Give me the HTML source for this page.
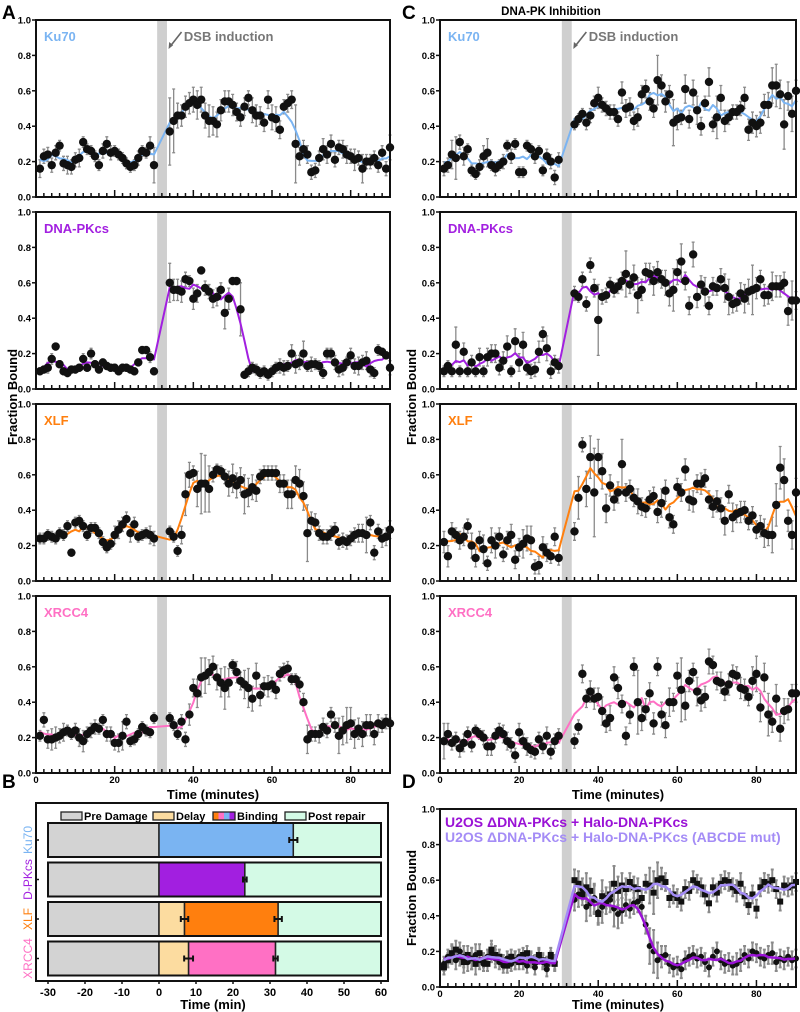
<!DOCTYPE html>
<html><head><meta charset="utf-8"><style>
html,body{margin:0;padding:0;background:#fff;}
svg{display:block;font-family:"Liberation Sans",Arial,sans-serif;}
</style></head><body>
<svg id="fig" width="800" height="1012" viewBox="0 0 800 1012">
<rect width="800" height="1012" fill="#fff"/>
<text x="2" y="19" font-size="19" font-weight="bold">A</text>
<text x="402" y="19" font-size="19" font-weight="bold">C</text>
<text x="2" y="788" font-size="19" font-weight="bold">B</text>
<text x="402" y="788" font-size="19" font-weight="bold">D</text>
<text x="551" y="15" font-size="11.5" font-weight="bold" text-anchor="middle">DNA-PK Inhibition</text>
<text transform="translate(17,397) rotate(-90)" font-size="13" font-weight="bold" text-anchor="middle">Fraction Bound</text>
<text transform="translate(416,397) rotate(-90)" font-size="13" font-weight="bold" text-anchor="middle">Fraction Bound</text>
<text transform="translate(416,898) rotate(-90)" font-size="13" font-weight="bold" text-anchor="middle">Fraction Bound</text>
<text x="213" y="799" font-size="13" font-weight="bold" text-anchor="middle">Time (minutes)</text>
<text x="618" y="799" font-size="13" font-weight="bold" text-anchor="middle">Time (minutes)</text>
<text x="618" y="1009" font-size="13" font-weight="bold" text-anchor="middle">Time (minutes)</text>
<text x="213" y="1009" font-size="13" font-weight="bold" text-anchor="middle">Time (min)</text>
</svg>
<script>
// ---- Panel A data (hundredths) ----
const a1Pre=[16,23,24,18,25,29,19,18,17,21,22,31,27,26,23,18,26,30,25,26,24,22,19,17,18,22,26,25,29,18];
const a1Post=[37,43,46,46,51,53,55,52,55,46,43,43,41,49,54,54,52,48,45,51,56,49,46,46,42,55,45,44,38,51,53,55,30,23,27,24,14,15,22,27,24,30,21,28,27,24,23,21,22,16,20,20,22,18,25,16,28];
const a1Err=[5,4,4,4,4,3,4,5,4,4,5,3,3,3,3,3,4,4,4,3,3,3,3,3,3,4,3,3,5,10,19,18,7,6,6,6,7,8,7,7,9,8,7,6,6,6,6,5,5,5,4,7,6,5,5,5,7,7,5,4,5,5,22,5,5,5,4,4,4,6,5,5,4,4,5,5,4,6,4,8,4,4,4,4,4,4,7];
const a2Pre=[10,11,12,17,24,14,10,9,11,11,12,17,12,20,14,11,15,13,12,12,10,12,12,11,10,15,22,22,18,10];
const a2Post=[60,56,56,55,62,61,51,54,67,57,55,51,52,56,43,51,61,61,45,8,10,12,11,9,10,8,10,12,13,12,13,20,14,15,20,13,14,14,13,9,20,20,15,11,12,15,19,13,13,15,16,11,9,22,21,19,12];
const a2Err=[2,2,3,3,2,2,2,2,2,2,2,3,2,3,2,2,2,2,2,2,2,2,2,2,2,2,2,2,3,2,11,6,6,6,4,3,6,5,2,4,4,5,5,4,9,6,2,2,15,2,3,3,3,3,3,3,3,3,4,4,3,5,5,4,7,3,4,3,3,3,3,3,4,4,4,3,4,4,5,4,5,4,3,3,2,2,4];
const a3Pre=[24,24,26,25,24,27,26,31,16,33,34,31,26,30,30,27,22,19,21,26,29,32,35,27,32,25,26,27,26,24];
const a3Post=[28,25,17,26,49,60,61,52,55,55,52,60,63,62,59,55,58,54,57,49,50,53,51,59,61,61,61,61,55,55,49,49,57,55,48,27,34,33,27,25,25,27,29,22,23,22,24,26,27,27,26,33,16,28,24,25,29];
const a3Err=[3,3,3,3,3,3,3,3,2,3,3,3,3,3,3,3,3,3,3,5,5,4,4,5,4,3,3,3,5,4,3,3,3,5,12,7,4,10,17,16,13,4,3,3,4,7,8,7,7,11,8,7,6,4,4,4,4,4,5,5,8,8,8,8,8,16,5,5,4,4,4,4,4,4,4,4,4,4,5,5,10,4,4,4,5,5,5];
const a4Pre=[21,30,19,19,20,21,23,24,22,24,20,18,22,24,26,25,30,22,22,17,17,21,29,18,19,22,26,24,23,31];
const a4Post=[31,27,22,29,19,33,48,45,54,55,57,60,54,51,48,51,61,57,52,50,48,42,55,44,49,49,50,47,56,58,59,53,53,50,40,19,22,22,22,26,24,33,27,21,24,27,28,22,25,22,27,27,22,28,27,29,28];
const a4Err=[3,4,5,6,6,4,5,3,3,4,5,6,4,4,4,3,3,4,4,4,5,8,4,3,3,3,3,3,3,3,3,3,3,4,4,6,5,8,11,10,7,6,7,8,12,8,3,6,5,8,11,7,7,6,5,6,4,5,4,4,4,3,3,4,5,8,4,4,5,5,4,4,4,10,8,10,9,8,6,7,6,6,6,5,4,4,3];
// ---- Panel C data ----
const c1Pre=[16,18,24,22,31,23,27,15,13,17,23,25,18,16,18,20,29,23,30,14,14,29,27,23,26,15,23,20,11,21];
const c1Post=[41,44,47,42,46,53,56,52,50,48,48,44,59,50,51,43,45,58,61,54,50,66,63,54,58,42,44,45,61,44,59,49,40,53,65,41,45,56,43,45,48,48,50,56,38,42,40,42,52,52,63,63,58,41,57,47,60];
const c1Err=[4,4,8,12,4,5,3,3,3,4,6,8,3,4,3,4,3,4,3,3,3,3,3,4,3,3,4,4,4,4,3,3,3,4,4,4,6,4,4,4,4,4,6,5,5,5,5,5,5,5,5,14,6,6,5,13,6,4,8,5,7,8,5,4,8,4,12,7,6,4,4,4,4,6,6,6,6,6,6,7,10,12,8,14,8,10,6];
const c2Pre=[10,13,10,25,10,21,10,15,10,18,10,18,20,20,12,16,24,10,27,15,25,12,10,11,21,31,23,10,15,13];
const c2Post=[54,52,62,48,70,57,39,52,53,59,56,58,61,65,59,63,53,56,66,65,61,66,62,60,54,56,66,72,61,47,76,52,59,55,47,58,57,62,57,52,48,49,54,51,55,56,57,62,53,53,58,58,58,60,44,50,50];
const c2Err=[3,3,3,10,3,5,3,4,3,5,3,5,5,5,4,5,6,3,7,5,7,4,4,4,6,4,7,4,4,4,4,3,4,4,4,5,20,4,4,4,4,4,5,13,5,7,10,6,5,6,8,6,5,7,7,12,7,10,5,5,7,6,5,8,5,5,4,6,8,10,5,5,6,8,7,14,6,5,6,5,8,6,6,6,8,11,5];
const c3Pre=[22,14,28,26,23,25,31,20,13,23,18,10,23,20,25,15,23,26,12,19,21,24,23,8,9,19,16,14,25,13];
const c3Post=[28,47,77,52,70,50,70,62,41,54,46,50,66,50,52,47,45,42,41,46,48,39,44,51,36,32,53,50,63,46,45,55,55,58,46,42,45,41,34,49,36,38,39,40,34,37,29,31,27,26,26,43,64,57,34,26,50];
const c3Err=[6,6,5,4,5,5,4,7,5,5,8,4,7,7,5,4,5,6,5,5,8,7,8,4,5,6,5,4,5,4,5,12,4,10,12,25,10,10,8,6,6,6,14,5,5,5,7,5,5,5,5,6,8,6,6,5,5,5,6,6,6,5,6,5,5,6,6,6,8,5,8,5,6,5,5,5,5,6,8,6,10,12,12,12,6,8,8];
const c4Pre=[18,22,17,19,14,17,22,16,24,22,20,15,15,21,24,22,18,16,10,23,18,15,13,12,19,15,21,12,18,21];
const c4Post=[18,26,56,42,46,42,43,35,28,31,54,48,39,21,33,60,40,31,36,45,28,60,33,27,40,40,55,47,38,52,57,46,41,43,63,61,52,51,46,50,56,55,48,47,43,52,56,37,54,33,29,42,25,35,36,45,45];
const c4Err=[10,6,4,4,5,5,4,4,3,3,4,5,5,4,4,5,5,4,4,5,4,5,4,4,4,4,5,4,4,4,4,4,5,5,6,6,5,8,5,7,6,6,5,5,5,5,18,7,6,6,6,5,7,7,8,5,7,18,8,6,5,8,6,6,7,5,5,6,5,6,5,5,6,6,5,8,10,8,8,12,6,8,7,7,6,5,5];
// ---- Panel D data ----
const dWtPre=[13,17,18,15,20,17,14,16,18,15,13,17,19,16,14,12,16,13,15,17,14,12,15,11,17,14,10,16,14];
const dWtPost=[49,52,55,45,47,50,42,45,50,49,44,41,43,46,44,47,48,45,35,23,20,15,17,18,13,11,12,10,15,17,18,16,17,14,11,17,20,15,13,14,12,13,15,18,16,20,19,17,16,18,19,14,16,15,17,15,16];
const dMutPre=[11,15,19,21,17,14,18,16,13,19,15,13,21,18,17,14,12,17,15,14,18,19,16,14,18,15,13,18,13];
const dMutPost=[60,58,52,56,54,49,41,51,47,52,58,54,57,55,59,56,55,50,58,57,53,60,61,59,50,52,50,48,55,54,60,58,56,52,47,56,53,58,60,59,56,54,58,51,46,52,44,56,59,58,60,55,48,57,56,57,59];
const dErr=[4,4,5,5,5,6,5,6,6,5,4,4,5,5,4,4,4,4,5,4,4,4,4,4,4,4,4,4,4,6,7,6,8,7,8,6,9,6,7,10,8,7,6,5,6,6,5,5,10,12,10,6,5,5,5,5,5,5,5,5,5,5,5,5,5,5,5,5,5,5,6,6,5,5,5,5,5,5,5,6,5,5,5,5,5,5];
// ---- Panel B data ----
const bNames=["Ku70","D-PKcs","XLF","XRCC4"];
const bDelayEnd=[0,0,6.9,8.0];
const bBindEnd=[36.3,23.2,32.2,31.5];
const bDelayErr=[0,0,1.0,1.2];
const bBindErr=[1.1,0.5,1.0,0.6];
const bTicks=[-30,-20,-10,0,10,20,30,40,50,60];
const yTicks=[0,0.2,0.4,0.6,0.8,1.0];
const xTicksMajor=[0,20,40,60,80];

const NS='http://www.w3.org/2000/svg';
const svg=document.getElementById('fig');
function mk(tag,attrs,parent){const e=document.createElementNS(NS,tag);for(const k in attrs)e.setAttribute(k,attrs[k]);(parent||svg).appendChild(e);return e;}
function smooth(arr){const o=[];for(let i=0;i<arr.length;i++){let s=0,n=0;for(let j=i-2;j<=i+2;j++){if(j>=0&&j<arr.length){s+=arr[j];n++;}}o.push(s/n);}return o;}

function panel(p){
  const g=mk('g',{});
  
  
  const sx=t=>p.x0+t/90*(p.x1-p.x0);
  const sy=v=>p.bot-v*(p.bot-p.top);
  const band=mk('rect',{x:sx(30.8),y:p.top,width:sx(33.3)-sx(30.8),height:p.bot-p.top,fill:'#cfcfcf'},g);
  
  
  p.series.forEach(s=>{
    const tPre=s.pre.map((v,i)=>i+1);
    const tPost=s.post.map((v,i)=>i+34);
    const ts=tPre.concat(tPost), vs=s.pre.concat(s.post).map(v=>v/100);
    const errs=p.err;
    ts.forEach((t,i)=>{
      const e=(errs[i]||4)/100, x=sx(t);
      const eb=mk('path',{d:`M${x},${sy(vs[i]-e)}V${sy(vs[i]+e)}M${x-1.5},${sy(vs[i]-e)}h3M${x-1.5},${sy(vs[i]+e)}h3`,stroke:'#8a8a8a','stroke-width':p.ebw||1.3,fill:'none'},g);
      
      
    });
    s.draw=()=>{
      const ln=smooth(s.pre).concat(smooth(s.post));
      let d='';ts.forEach((t,i)=>{d+=(i?'L':'M')+sx(t).toFixed(1)+','+sy(ln[i]/100).toFixed(1);});
      const path=mk('path',{d:d,stroke:s.color,'stroke-width':s.lw||2,fill:'none','stroke-linejoin':'round'},g);
      
      
    };
    s.dots=()=>{
      ts.forEach((t,i)=>{
        let m;
        if(s.marker==='square'){m=mk('rect',{x:sx(t)-3,y:sy(vs[i])-3,width:6,height:6,fill:'#111'},g);}
        else m=mk('circle',{cx:sx(t),cy:sy(vs[i]),r:s.r||4.2,fill:'#111'},g);
        
        
      });
    };
  });
  p.series.forEach(s=>{ if(p.lineFirst){s.draw();} });
  p.series.forEach(s=>s.dots());
  p.series.forEach(s=>{ if(!p.lineFirst){s.draw();} });
  const fr=mk('rect',{x:p.x0,y:p.top,width:p.x1-p.x0,height:p.bot-p.top,fill:'none',stroke:'#111','stroke-width':2},g);
  
  
  for(let t=0;t<=90;t+=2){
    const major=xTicksMajor.includes(t);
    const tk=mk('line',{x1:sx(t),x2:sx(t),y1:p.bot,y2:p.bot-(major?7:4),stroke:'#111','stroke-width':1.5},g);
    
    
  }
  if(p.showX){
    xTicksMajor.forEach(t=>{
      const tl=mk('text',{x:sx(t),y:p.bot+10,'font-size':9.5,'font-weight':'bold','text-anchor':'middle'},g);
      tl.textContent=t;
      
      
    });
  }
  yTicks.forEach(v=>{
    const tk=mk('line',{x1:p.x0,x2:p.x0-4,y1:sy(v),y2:sy(v),stroke:'#111','stroke-width':1.5},g);
    
    
    const tl=mk('text',{x:p.x0-5,y:sy(v)+3.5,'font-size':9.5,'font-weight':'bold','text-anchor':'end'},g);
    tl.textContent=v.toFixed(1);
    
    
  });
  if(p.label){
    const lb=mk('text',{x:p.x0+8,y:p.top+21,'font-size':13,'font-weight':'bold',fill:p.labelColor},g);
    lb.textContent=p.label;
    
    
  }
  if(p.dsb){
    const ar=mk('path',{d:`M${sx(37)},${p.top+12}L${sx(34.2)},${p.top+26}`,stroke:'#666','stroke-width':1.6,fill:'none'},g);
    
    
    const ah=mk('path',{d:`M${sx(33.7)},${p.top+29}l0.6,-7l4,3.2z`,fill:'#666'},g);
    
    
    const dt=mk('text',{x:sx(37.6),y:p.top+21,'font-size':13,'font-weight':'bold',fill:'#777'},g);
    dt.textContent='DSB induction';
    
    
  }
}
const tops=[20,212,404,596];
const blue='#7ab4f2',purple='#a21fe0',orange='#ff7f0e',pink='#ff70c4';
const A=[[a1Pre,a1Post,a1Err,'Ku70',blue],[a2Pre,a2Post,a2Err,'DNA-PKcs',purple],[a3Pre,a3Post,a3Err,'XLF',orange],[a4Pre,a4Post,a4Err,'XRCC4',pink]];
const C=[[c1Pre,c1Post,c1Err,'Ku70',blue],[c2Pre,c2Post,c2Err,'DNA-PKcs',purple],[c3Pre,c3Post,c3Err,'XLF',orange],[c4Pre,c4Post,c4Err,'XRCC4',pink]];
A.forEach((d,i)=>panel({name:'panel-a-'+d[3].toLowerCase(),x0:36,x1:390,top:tops[i],bot:tops[i]+177,series:[{pre:d[0],post:d[1],color:d[4]}],err:d[2],label:d[3],labelColor:d[4],showX:i===3,dsb:i===0,lineFirst:true}));
C.forEach((d,i)=>panel({name:'panel-c-'+d[3].toLowerCase(),x0:440,x1:796,top:tops[i],bot:tops[i]+177,series:[{pre:d[0],post:d[1],color:d[4]}],err:d[2],label:d[3],labelColor:d[4],showX:i===3,dsb:i===0,lineFirst:true}));
panel({name:'panel-d',x0:440,x1:796,top:809,bot:987,series:[{pre:dWtPre,post:dWtPost,color:'#9a12d6',r:3,lw:2.5},{pre:dMutPre,post:dMutPost,color:'#a48cf6',marker:'square',lw:2.5}],err:dErr,ebw:2,showX:true,lineFirst:false});
const l1=mk('text',{x:445,y:827,'font-size':14,'font-weight':'bold',fill:'#9a12d6'});
l1.textContent='U2OS ΔDNA-PKcs + Halo-DNA-PKcs';


const l2=mk('text',{x:445,y:842,'font-size':14,'font-weight':'bold',fill:'#a48cf6'});
l2.textContent='U2OS ΔDNA-PKcs + Halo-DNA-PKcs (ABCDE mut)';



(function(){
  const x0=36,x1=388,top=803,bot=981;
  const bx=v=>48+(v+30)/90*(381-48);
  const rowTop=i=>823+i*39.5, rh=34;
  const cols=[blue,purple,orange,pink];
  const fr=mk('rect',{x:x0,y:top,width:x1-x0,height:bot-top,fill:'none',stroke:'#111','stroke-width':2});
  
  
  bNames.forEach((n,i)=>{
    const y=rowTop(i);
    const segs=[[-30,0,'#d3d3d3','pre-damage'],[0,bDelayEnd[i],'#fcdca0','delay'],[bDelayEnd[i],bBindEnd[i],cols[i],'binding'],[bBindEnd[i],60,'#d4fae6','post-repair']];
    segs.forEach(s=>{
      if(s[1]-s[0]<=0)return;
      const r=mk('rect',{x:bx(s[0]),y:y,width:bx(s[1])-bx(s[0]),height:rh,fill:s[2],stroke:'#222','stroke-width':1.5});
      
      
    });
    const ob=mk('rect',{x:bx(-30),y:y,width:bx(60)-bx(-30),height:rh,fill:'none',stroke:'#111','stroke-width':2});
    
    
    [[bDelayEnd[i],bDelayErr[i]],[bBindEnd[i],bBindErr[i]]].forEach(e=>{
      if(e[1]<=0)return;
      const cy=y+rh/2;
      const eb=mk('path',{d:`M${bx(e[0]-e[1])},${cy}H${bx(e[0]+e[1])}M${bx(e[0]-e[1])},${cy-3}v6M${bx(e[0]+e[1])},${cy-3}v6`,stroke:'#111','stroke-width':2,fill:'none'});
      
      
    });
    const tk=mk('line',{x1:x0,x2:x0+3,y1:y+rh/2,y2:y+rh/2,stroke:'#111','stroke-width':1.5});
    
    
    const lb=mk('text',{transform:`translate(32,${y+rh/2}) rotate(-90)`,'font-size':12,'text-anchor':'middle',fill:cols[i]});
    lb.textContent=n;
    
    
  });
  bTicks.forEach(t=>{
    const tk=mk('line',{x1:bx(t),x2:bx(t),y1:bot,y2:bot+3,stroke:'#111','stroke-width':1.5});
    
    
    const tl=mk('text',{x:bx(t),y:996,'font-size':11,'font-weight':'bold','text-anchor':'middle'});
    tl.textContent=t;
    
    
  });
  const leg=[[61,'#d3d3d3','Pre Damage'],[153,'#fcdca0','Delay'],[213,null,'Binding'],[285,'#d4fae6','Post repair']];
  leg.forEach(L=>{
    if(L[1]){
      const b=mk('rect',{x:L[0],y:812,width:21,height:8,fill:L[1],stroke:'#222','stroke-width':1.3});
      
      
    } else {
      [orange,pink,blue,purple].forEach((c,k)=>{
        const b=mk('rect',{x:L[0]+k*5.5,y:812,width:5.5,height:8,fill:c});
        
        
      });
      const o=mk('rect',{x:L[0],y:812,width:22,height:8,fill:'none',stroke:'#222','stroke-width':1.3});
      
      
    }
    const t=mk('text',{x:L[0]+(L[1]?23:24),y:820,'font-size':11,'font-weight':'bold'});
    t.textContent=L[2];
    
    
  });
})();
</script>
</body></html>
